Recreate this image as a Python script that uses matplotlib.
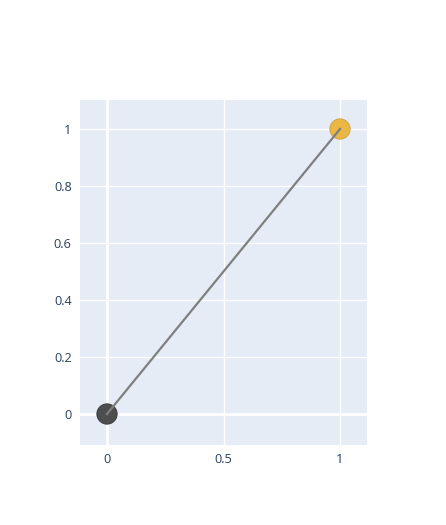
import matplotlib
matplotlib.use("Agg")
import matplotlib.pyplot as plt

plt.rcParams['font.family'] = ['Open Sans', 'DejaVu Sans']

x_vals = [0, 1]
y_vals = [0, 1]
marker_colors = ["#444444", "#EBB43B"]
xticks = [0, 0.5, 1]
xtick_labels = ["0", "0.5", "1"]
yticks = [0, 0.2, 0.4, 0.6, 0.8, 1]
ytick_labels = ["0", "0.2", "0.4", "0.6", "0.8", "1"]

W, H = 446, 525
fig = plt.figure(figsize=(W / 100, H / 100), dpi=100)
L, R, T, B = 80, 367, 100, 445
ax = fig.add_axes([L / W, 1 - B / H, (R - L) / W, (B - T) / H])
ax.set_facecolor("#E5ECF6")
for s in ax.spines.values():
    s.set_visible(False)

ax.set_xlim(-27 / 233, 1 + 27 / 233)
ax.set_ylim(-31 / 285, 1 + 29 / 285)
ax.set_xticks(xticks)
ax.set_xticklabels(xtick_labels)
ax.set_yticks(yticks)
ax.set_yticklabels(ytick_labels)
ax.tick_params(length=0, labelsize=9.2, labelcolor="#2a3f5f", pad=6)
ax.grid(True, color="white", linewidth=1)
ax.set_axisbelow(True)
ax.axhline(0, color="white", linewidth=2, zorder=0.5)
ax.axvline(0, color="white", linewidth=2, zorder=0.5)

ax.scatter(x_vals, y_vals, s=215, c=marker_colors, alpha=0.95,
           edgecolors=["#333333", "#C9A040"], linewidths=0.6, zorder=3)
ax.plot(x_vals, y_vals, color="#7F7F7F", linewidth=1.6, zorder=4)

fig.savefig("out.png", dpi=100)
